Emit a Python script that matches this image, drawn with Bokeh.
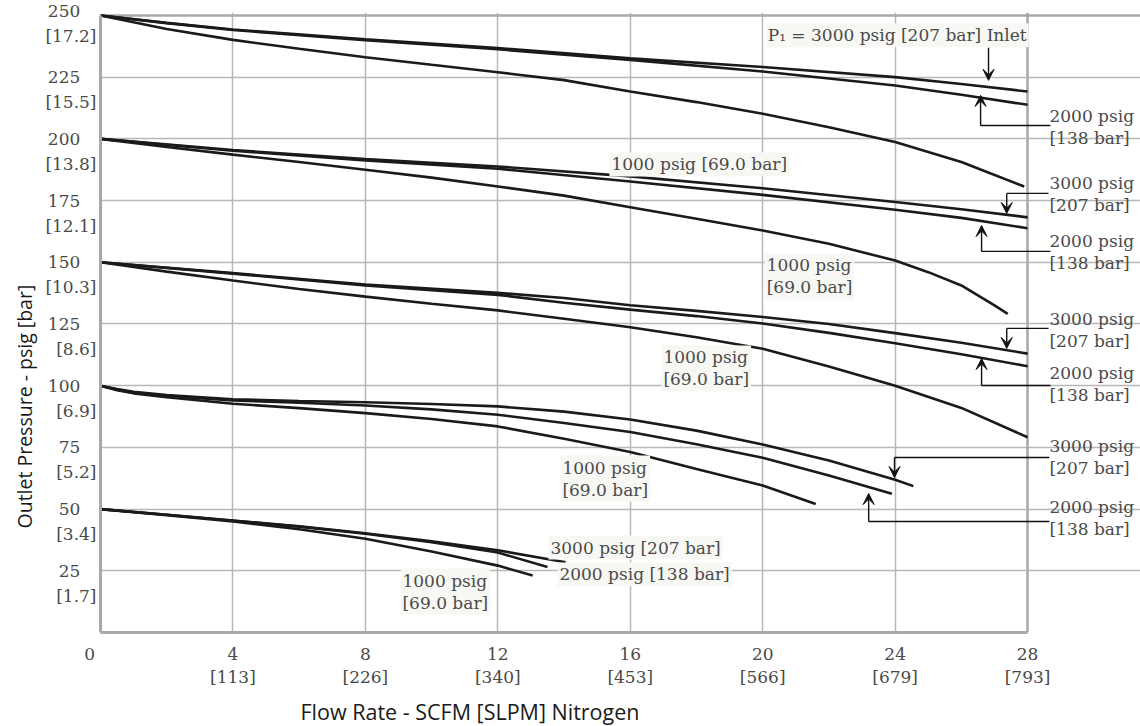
from bokeh.plotting import figure
from bokeh.models import Range1d, FixedTicker, Label, Arrow, VeeHead, Grid, Title
from bokeh.embed import file_html
from bokeh.resources import INLINE

# ---------------- data ----------------
flow_ticks = [0, 4, 8, 12, 16, 20, 24, 28]
flow_slpm = ["", "113", "226", "340", "453", "566", "679", "793"]
psig_ticks = [25, 50, 75, 100, 125, 150, 175, 200, 225, 250]
bar_labels = ["1.7", "3.4", "5.2", "6.9", "8.6", "10.3", "12.1", "13.8", "15.5", "17.2"]

# set point 250 psig
g250_3000_x = [0, 2, 4, 8, 12, 16, 20, 24, 26, 28]
g250_3000_y = [250, 247.0, 244.3, 240.3, 236.8, 232.6, 229.1, 225.0, 222.2, 219.2]
g250_2000_x = [0, 2, 4, 8, 12, 16, 20, 24, 26, 28]
g250_2000_y = [250, 246.9, 244.1, 240.0, 236.3, 232.0, 227.3, 221.6, 217.9, 213.8]
g250_1000_x = [0, 2, 4, 6, 8, 10, 12, 14, 16, 18, 20, 22, 24, 26, 27.9]
g250_1000_y = [250, 244.5, 240.1, 236.5, 233.1, 230.0, 227.0, 223.8, 219.2, 214.9, 210.2, 204.7, 198.7, 190.6, 180.7]

# set point 200 psig
g200_3000_x = [0, 4, 8, 12, 16, 20, 24, 26, 28]
g200_3000_y = [200, 195.5, 191.8, 188.8, 184.8, 180.0, 174.4, 171.5, 168.2]
g200_2000_x = [0, 4, 8, 12, 16, 20, 24, 26, 28]
g200_2000_y = [200, 195.2, 191.3, 187.9, 182.7, 177.3, 171.3, 168.0, 163.8]
g200_1000_x = [0, 2, 4, 6, 8, 10, 12, 14, 16, 18, 20, 22, 24, 25, 26, 27, 27.4]
g200_1000_y = [200, 196.7, 193.6, 190.6, 187.5, 184.3, 180.7, 177.0, 172.3, 167.6, 162.9, 157.5, 150.7, 146.0, 140.6, 132.5, 129.1]

# set point 150 psig
g150_3000_x = [0, 4, 8, 12, 14, 16, 18, 20, 22, 24, 26, 28]
g150_3000_y = [150, 145.6, 141.0, 137.6, 135.5, 132.6, 130.3, 127.8, 125.0, 121.3, 117.4, 113.0]
g150_2000_x = [0, 4, 8, 12, 14, 16, 18, 20, 22, 24, 26, 28]
g150_2000_y = [150, 145.4, 140.6, 136.8, 133.6, 130.8, 128.2, 125.2, 121.4, 117.2, 112.7, 107.9]
g150_1000_x = [0, 2, 4, 6, 8, 10, 12, 14, 16, 18, 20, 22, 24, 26, 28]
g150_1000_y = [150, 146.2, 142.6, 139.2, 136.1, 133.2, 130.5, 127.1, 123.7, 119.6, 115.0, 107.8, 100.0, 91.0, 79.1]

# set point 100 psig
g100_3000_x = [0, 0.5, 1, 2, 4, 6, 8, 10, 12, 14, 16, 18, 20, 22, 24, 24.55]
g100_3000_y = [100, 98.6, 97.5, 96.2, 94.5, 93.8, 93.3, 92.6, 91.6, 89.5, 86.3, 81.8, 76.2, 69.7, 61.9, 59.3]
g100_2000_x = [0, 0.5, 1, 2, 4, 6, 8, 10, 12, 14, 16, 18, 20, 22, 23.9]
g100_2000_y = [100, 98.4, 97.2, 95.8, 94.0, 93.1, 92.0, 90.4, 88.2, 84.9, 81.2, 76.3, 70.8, 63.6, 56.2]
g100_1000_x = [0, 0.5, 1, 2, 4, 6, 8, 10, 12, 14, 16, 18, 20, 21.6]
g100_1000_y = [100, 98.2, 96.9, 95.3, 92.7, 90.9, 88.9, 86.5, 83.5, 78.5, 73.1, 66.2, 59.6, 52.1]

# set point 50 psig
g50_3000_x = [0, 2, 4, 6, 8, 10, 12, 14.05]
g50_3000_y = [50, 47.7, 45.4, 43.0, 40.2, 37.0, 33.3, 28.5]
g50_2000_x = [0, 2, 4, 6, 8, 10, 12, 13.5]
g50_2000_y = [50, 47.7, 45.3, 42.9, 40.0, 36.6, 32.4, 26.5]
g50_1000_x = [0, 2, 4, 6, 8, 10, 12, 13.05]
g50_1000_y = [50, 47.5, 45.0, 41.8, 38.0, 32.8, 27.1, 23.1]

curves = [
    (g250_3000_x, g250_3000_y), (g250_2000_x, g250_2000_y), (g250_1000_x, g250_1000_y),
    (g200_3000_x, g200_3000_y), (g200_2000_x, g200_2000_y), (g200_1000_x, g200_1000_y),
    (g150_3000_x, g150_3000_y), (g150_2000_x, g150_2000_y), (g150_1000_x, g150_1000_y),
    (g100_3000_x, g100_3000_y), (g100_2000_x, g100_2000_y), (g100_1000_x, g100_1000_y),
    (g50_3000_x, g50_3000_y), (g50_2000_x, g50_2000_y), (g50_1000_x, g50_1000_y),
]

X_MAX = 28
Y_MAX = 250

# ---------------- figure ----------------
SERIF = "DejaVu Serif"
SANS = "Open Sans"
TXT = "#4a4a4a"
GRID = "#b8b8b8"
AXIS = "#a8a8a8"
PAD = "\u2007\u00a0"   # keeps the psig line of a tick label centred over the bar line

# the frame extends to the right of the chart so the call-out texts can be drawn
p = figure(frame_width=1040, frame_height=620, output_backend="svg", toolbar_location=None,
           x_range=Range1d(0, 31.41), y_range=Range1d(0, 251.2),
           min_border_left=100, min_border_right=0, min_border_top=12, min_border_bottom=94,
           background_fill_color="white", border_fill_color="white")
p.outline_line_color = None

p.xaxis.ticker = FixedTicker(ticks=flow_ticks)
p.xaxis.major_label_overrides = {
    t: (f"{t}\n[{s}]" if s else f"{t}\u2007\u2007") for t, s in zip(flow_ticks, flow_slpm)
}
p.yaxis.ticker = FixedTicker(ticks=psig_ticks)
p.yaxis.major_label_overrides = {
    t: (f"{t}{PAD}\n[{b}]" if t == Y_MAX else f"\n{t}{PAD}\n[{b}]")
    for t, b in zip(psig_ticks, bar_labels)
}
p.xaxis.bounds = (0, X_MAX)
p.yaxis.bounds = (0, Y_MAX)

for ax in (p.xaxis[0], p.yaxis[0]):
    ax.axis_line_color = AXIS
    ax.axis_line_width = 3
    ax.major_tick_line_color = None
    ax.minor_tick_line_color = None
    ax.major_label_text_font = SERIF
    ax.major_label_text_font_size = "17px"
    ax.major_label_text_color = TXT

p.xaxis.major_label_standoff = 5
p.xaxis.major_label_text_line_height = 1.15
p.yaxis.major_label_standoff = -2
p.yaxis.major_label_text_line_height = 1.25

p.xgrid.ticker = FixedTicker(ticks=[t for t in flow_ticks if 0 < t < X_MAX])
p.ygrid.ticker = FixedTicker(ticks=[t for t in psig_ticks if t < Y_MAX])
p.xgrid.bounds = (0, Y_MAX)
p.ygrid.bounds = (0, X_MAX)
p.grid.grid_line_color = GRID
p.grid.grid_line_width = 1.5

# chart border (top and right)
p.add_layout(Grid(dimension=0, ticker=FixedTicker(ticks=[X_MAX]), bounds=(0, Y_MAX),
                  grid_line_color=AXIS, grid_line_width=2.5))
p.add_layout(Grid(dimension=1, ticker=FixedTicker(ticks=[Y_MAX]), bounds=(0, X_MAX),
                  grid_line_color=AXIS, grid_line_width=2.5))

for cx, cy in curves:
    p.line(cx, cy, line_width=2.6, line_color="#1a1a1a")

# axis titles
p.add_layout(Title(text="Flow Rate - SCFM [SLPM] Nitrogen", align="left", offset=200,
                   text_font=SANS, text_font_size="21.5px", text_font_style="normal",
                   text_color="#1a1a1a"), "below")
p.add_layout(Title(text="Outlet Pressure - psig [bar]", align="left", offset=104,
                   text_font=SANS, text_font_size="19.5px", text_font_style="normal",
                   text_color="#1a1a1a"), "left")

# curve labels inside the chart (with light background)
inner_labels = [
    ("P\u2081 = 3000 psig [207 bar] Inlet", 20.09, 246.8),
    ("1000 psig [69.0 bar]", 15.37, 194.5),
    ("1000 psig\n[69.0 bar]", 20.06, 153.6),
    ("1000 psig\n[69.0 bar]", 16.94, 116.3),
    ("1000 psig\n[69.0 bar]", 13.89, 71.7),
    ("3000 psig [207 bar]", 13.53, 39.3),
    ("2000 psig [138 bar]", 13.80, 28.4),
    ("1000 psig\n[69.0 bar]", 9.06, 25.9),
]
for t, lx, ly in inner_labels:
    p.add_layout(Label(x=lx, y=ly, text=t, text_font=SERIF, text_font_size="17px",
                       text_color=TXT, text_align="left", text_baseline="top",
                       text_line_height=1.1, background_fill_color="#f7f7f4",
                       padding=2))

# call-outs on the right
outer_labels = [
    ("2000 psig\n[138 bar]", 28.66, 213.5),
    ("3000 psig\n[207 bar]", 28.66, 186.0),
    ("2000 psig\n[138 bar]", 28.66, 162.5),
    ("3000 psig\n[207 bar]", 28.66, 130.9),
    ("2000 psig\n[138 bar]", 28.66, 109.0),
    ("3000 psig\n[207 bar]", 28.66, 79.8),
    ("2000 psig\n[138 bar]", 28.66, 55.1),
]
for t, lx, ly in outer_labels:
    p.add_layout(Label(x=lx, y=ly, text=t, text_font=SERIF, text_font_size="17px",
                       text_color=TXT, text_align="left", text_baseline="top",
                       text_line_height=1.1))

# leader lines: (x_text, y_level, x_tip, y_tip); x_text None -> no horizontal leg
leaders = [
    (None, 236.9, 26.82, 223.7),
    (28.69, 205.4, 26.58, 217.6),
    (28.63, 177.9, 27.37, 169.8),
    (28.69, 154.4, 26.61, 164.9),
    (28.63, 123.2, 27.37, 115.1),
    (28.69, 100.1, 26.61, 111.0),
    (28.66, 70.9, 23.98, 62.8),
    (28.66, 45.0, 23.20, 56.3),
]
for xt, yl, xe, ye in leaders:
    if xt is not None:
        p.add_layout(Arrow(x_start=xt, y_start=yl, x_end=xe, y_end=yl, start=None, end=None,
                           line_color="#111111", line_width=1.4))
    p.add_layout(Arrow(x_start=xe, y_start=yl, x_end=xe, y_end=ye, start=None,
                       end=VeeHead(size=11, fill_color="#111111", line_color="#111111",
                                   line_width=1),
                       line_color="#111111", line_width=1.4))

open("out.html", "w").write(file_html(p, INLINE))
